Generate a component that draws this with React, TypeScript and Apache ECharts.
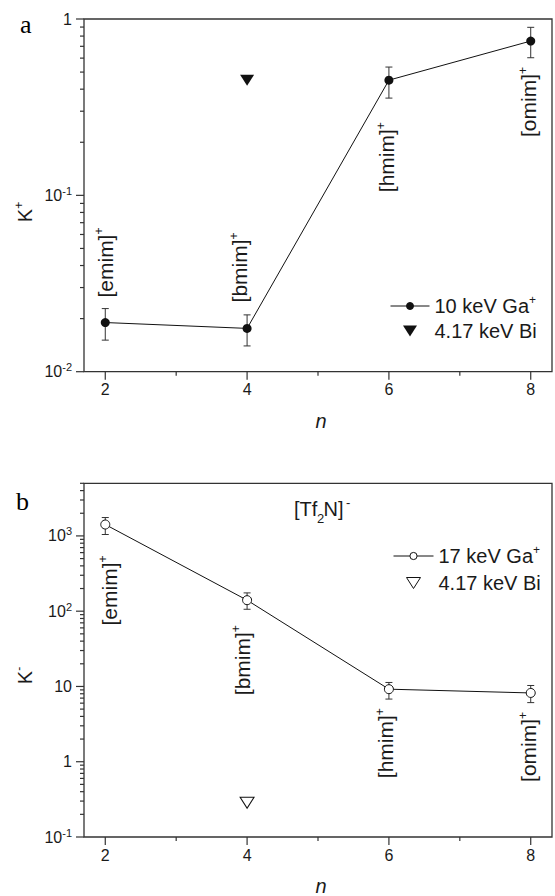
import React, { useEffect, useRef } from 'react';
import * as echarts from 'echarts';

// ---------- data ----------
const nValues = [2, 4, 6, 8];
const cationNames = ['emim', 'bmim', 'hmim', 'omim'];

// panel a : K+
const kPlusGa = [0.019, 0.0176, 0.45, 0.75];
const kPlusGaLow = [0.0151, 0.014, 0.356, 0.603];
const kPlusGaHigh = [0.0228, 0.021, 0.534, 0.897];
const kPlusBiN = [4];
const kPlusBi = [0.45];

// panel b : K-
const kMinusGa = [1417, 140, 9.2, 8.2];
const kMinusGaLow = [1044, 106, 6.8, 6.1];
const kMinusGaHigh = [1754, 175, 11.3, 10.3];
const kMinusBiN = [4];
const kMinusBi = [0.285];

// ticks
const xTickLabels = [2, 4, 6, 8];
const xMinorTicks = [3, 5, 7];
const yMajorA = [0.01, 0.1, 1];
const yMajorB = [0.1, 1, 10, 100, 1000];
const minorMultipliers = [2, 3, 4, 5, 6, 7, 8, 9];
const yMinorDecadesA = [0.01, 0.1];
const yMinorDecadesB = [0.1, 1, 10, 100, 1000];

// ---------- layout / style ----------
const FONT = '"Liberation Sans", Arial, Helvetica, sans-serif';
const SERIF = '"Liberation Serif", "Times New Roman", serif';
const AXIS_COLOR = '#333';
const TEXT_COLOR = '#1a1a1a';
const MARK_COLOR = '#111';

const X_MIN = 1.7;
const X_MAX = 8.3;
const A_Y_MIN = 0.01;
const A_Y_MAX = 1;
const B_Y_MIN = 0.1;
const B_Y_MAX = 5000;

const TRI_DOWN = 'path://M0,0L14,0L7,11Z';
const LINE_CIRCLE_ICON =
  'path://M0,5.5L16,5.5M23,5.5L39,5.5M16,5.5A3.5,3.5 0 1 0 23,5.5A3.5,3.5 0 1 0 16,5.5Z';

const labelLayoutA = [
  { side: 'above', gap: 25, dx: 0 },
  { side: 'above', gap: 26, dx: -7.5 },
  { side: 'below', gap: 42, dx: -2 },
  { side: 'below', gap: 26, dx: -2 },
];
const labelLayoutB = [
  { side: 'below', gap: 31, dx: 4 },
  { side: 'below', gap: 25, dx: -5 },
  { side: 'below', gap: 19, dx: -3 },
  { side: 'below', gap: 19, dx: -2 },
];

const supRich = (size: number) => ({
  sup: { fontSize: size, verticalAlign: 'top', lineHeight: size, fontFamily: FONT, color: TEXT_COLOR, fill: TEXT_COLOR },
});

function decadeLabel(v: number): string {
  const e = Math.round(Math.log10(v));
  if (Math.abs(Math.log10(v) - e) > 1e-6) return '';
  if (e === 0) return '1';
  if (e === 1) return '10';
  return '10{sup|' + e + '}';
}

function tickData(yMin: number, yMajor: number[], yMinorDecades: number[], yMax: number) {
  const d: number[][] = [];
  xTickLabels.forEach((v) => d.push([v, yMin, 0, 8]));
  xMinorTicks.forEach((v) => d.push([v, yMin, 0, 4]));
  yMajor.forEach((v) => d.push([X_MIN, v, 1, 8]));
  yMinorDecades.forEach((dec) =>
    minorMultipliers.forEach((m) => {
      const v = m * dec;
      if (v <= yMax * 1.0001) d.push([X_MIN, v, 1, 4]);
    })
  );
  return d;
}

function tickSeries(idx: number, data: number[][]) {
  return {
    type: 'custom',
    xAxisIndex: idx,
    yAxisIndex: idx,
    silent: true,
    clip: false,
    z: 5,
    dimensions: ['x', 'y', 'kind', 'len'],
    encode: { x: 0, y: 1, tooltip: [2, 3] },
    data,
    renderItem: (params: any, api: any) => {
      const p = api.coord([api.value(0), api.value(1)]);
      const kind = Number(api.value(2));
      const len = Number(api.value(3));
      const shape =
        kind === 0
          ? { x1: p[0], y1: p[1], x2: p[0], y2: p[1] + len }
          : { x1: p[0] - len, y1: p[1], x2: p[0], y2: p[1] };
      return { type: 'line', shape, style: { stroke: AXIS_COLOR, lineWidth: 1.2 } };
    },
  };
}

function errorSeries(idx: number, low: number[], high: number[]) {
  return {
    type: 'custom',
    xAxisIndex: idx,
    yAxisIndex: idx,
    silent: true,
    clip: false,
    z: 2,
    data: nValues.map((n, i) => [n, low[i], high[i]]),
    encode: { x: 0, y: [1, 2] },
    renderItem: (params: any, api: any) => {
      const x = api.value(0);
      const p1 = api.coord([x, api.value(1)]);
      const p2 = api.coord([x, api.value(2)]);
      const w = 3.5;
      const st = { stroke: '#333', lineWidth: 1 };
      return {
        type: 'group',
        children: [
          { type: 'line', shape: { x1: p1[0], y1: p1[1], x2: p2[0], y2: p2[1] }, style: st },
          { type: 'line', shape: { x1: p1[0] - w, y1: p1[1], x2: p1[0] + w, y2: p1[1] }, style: st },
          { type: 'line', shape: { x1: p2[0] - w, y1: p2[1], x2: p2[0] + w, y2: p2[1] }, style: st },
        ],
      };
    },
  };
}

function labelSeries(idx: number, values: number[], layout: any[]) {
  return {
    type: 'custom',
    xAxisIndex: idx,
    yAxisIndex: idx,
    silent: true,
    clip: false,
    z: 4,
    data: nValues.map((n, i) => [n, values[i]]),
    renderItem: (params: any, api: any) => {
      const i = params.dataIndex;
      const lay = layout[i];
      const p = api.coord([api.value(0), api.value(1)]);
      const above = lay.side === 'above';
      return {
        type: 'text',
        x: p[0] + lay.dx,
        y: above ? p[1] - lay.gap : p[1] + lay.gap,
        rotation: Math.PI / 2,
        style: {
          text: '[' + cationNames[i] + ']{sup|+}',
          fontSize: 21,
          fontFamily: FONT,
          fill: TEXT_COLOR,
          lineHeight: 24,
          align: above ? 'left' : 'right',
          verticalAlign: 'middle',
          rich: supRich(12),
        },
      };
    },
  };
}

const legendFormatter = (name: string) => {
  const clean = name.replace(' (b)', '');
  if (clean.endsWith('+')) return clean.slice(0, -1) + '{sup|+}';
  return clean;
};

function makeXAxis(idx: number, margin: number) {
  return {
    type: 'value',
    gridIndex: idx,
    min: X_MIN,
    max: X_MAX,
    axisLine: { show: false },
    axisTick: { show: false },
    splitLine: { show: false },
    axisLabel: {
      margin,
      fontSize: 16,
      fontFamily: FONT,
      color: TEXT_COLOR,
      formatter: (v: number) => (xTickLabels.indexOf(v) >= 0 ? String(v) : ''),
    },
  };
}

function makeYAxis(idx: number, min: number, max: number) {
  return {
    type: 'log',
    logBase: 10,
    gridIndex: idx,
    min,
    max,
    axisLine: { show: false },
    axisTick: { show: false },
    splitLine: { show: false },
    minorTick: { show: false },
    axisLabel: {
      margin: 12,
      fontSize: 16,
      fontFamily: FONT,
      color: TEXT_COLOR,
      lineHeight: 20,
      formatter: (v: number) => decadeLabel(v),
      rich: supRich(11),
    },
  };
}

function supText(x: number, y: number, main: string, sup: string, opts: any = {}) {
  return {
    type: 'text',
    x,
    y,
    rotation: opts.rotation || 0,
    style: {
      text: main + '{sup|' + sup + '}',
      fontSize: opts.fontSize || 20,
      fontFamily: FONT,
      fill: TEXT_COLOR,
      lineHeight: 24,
      align: opts.align || 'center',
      verticalAlign: 'middle',
      rich: supRich(12),
    },
  };
}

export default function App() {
  const ref = useRef<HTMLDivElement>(null);

  useEffect(() => {
    if (!ref.current) return;
    const chart = echarts.init(ref.current, null, { renderer: 'svg' });

    const legendText = { fontSize: 20, fontFamily: FONT, color: TEXT_COLOR, lineHeight: 24, rich: supRich(12) };

    const option: any = {
      animation: false,
      backgroundColor: '#fff',
      grid: [
        { left: 84, top: 19, width: 481, height: 352.7, show: true, borderColor: AXIS_COLOR, borderWidth: 1.3, backgroundColor: 'transparent' },
        { left: 84, top: 483.3, width: 481, height: 353.7, show: true, borderColor: AXIS_COLOR, borderWidth: 1.3, backgroundColor: 'transparent' },
      ],
      xAxis: [makeXAxis(0, 10), makeXAxis(1, 10)],
      yAxis: [makeYAxis(0, A_Y_MIN, A_Y_MAX), makeYAxis(1, B_Y_MIN, B_Y_MAX)],
      legend: [
        {
          data: [
            { name: '10 keV Ga+', icon: LINE_CIRCLE_ICON, itemStyle: { color: MARK_COLOR, borderColor: MARK_COLOR, borderWidth: 1 } },
            { name: '4.17 keV Bi', icon: TRI_DOWN, itemStyle: { color: MARK_COLOR, borderWidth: 0 } },
          ],
          left: 390,
          top: 294,
          orient: 'vertical',
          padding: 0,
          itemWidth: 39,
          itemHeight: 11,
          itemGap: 1,
          selectedMode: false,
          formatter: legendFormatter,
          textStyle: legendText,
        },
        {
          data: [
            { name: '17 keV Ga+', icon: LINE_CIRCLE_ICON, itemStyle: { color: '#fff', borderColor: MARK_COLOR, borderWidth: 1 } },
            { name: '4.17 keV Bi (b)', icon: TRI_DOWN, itemStyle: { color: '#fff', borderColor: MARK_COLOR, borderWidth: 1 } },
          ],
          left: 393,
          top: 544,
          orient: 'vertical',
          padding: 0,
          itemWidth: 40,
          itemHeight: 11,
          itemGap: 3,
          selectedMode: false,
          formatter: legendFormatter,
          textStyle: legendText,
        },
      ],
      graphic: [
        { type: 'text', x: 20, y: 24, style: { text: 'a', fontSize: 26, fontFamily: SERIF, fill: '#000', align: 'left', verticalAlign: 'middle' } },
        { type: 'text', x: 16, y: 501, style: { text: 'b', fontSize: 26, fontFamily: SERIF, fill: '#000', align: 'left', verticalAlign: 'middle' } },
        supText(25, 212, 'K', '+', { rotation: Math.PI / 2 }),
        supText(25, 675.5, 'K', '-', { rotation: Math.PI / 2 }),
        { type: 'text', x: 321, y: 420.5, style: { text: 'n', fontSize: 20, fontStyle: 'italic', fontFamily: FONT, fill: TEXT_COLOR, align: 'center', verticalAlign: 'middle' } },
        { type: 'text', x: 321, y: 886, style: { text: 'n', fontSize: 20, fontStyle: 'italic', fontFamily: FONT, fill: TEXT_COLOR, align: 'center', verticalAlign: 'middle' } },
        { type: 'text', x: 294, y: 509, style: { text: '[Tf', fontSize: 20, fontFamily: FONT, fill: TEXT_COLOR, align: 'left', verticalAlign: 'middle' } },
        { type: 'text', x: 317, y: 518.5, style: { text: '2', fontSize: 13, fontFamily: FONT, fill: TEXT_COLOR, align: 'left', verticalAlign: 'middle' } },
        { type: 'text', x: 323.5, y: 509, style: { text: 'N]', fontSize: 20, fontFamily: FONT, fill: TEXT_COLOR, align: 'left', verticalAlign: 'middle' } },
        { type: 'text', x: 346, y: 502, style: { text: '-', fontSize: 13, fontFamily: FONT, fill: TEXT_COLOR, align: 'left', verticalAlign: 'middle' } },
      ],
      series: [
        tickSeries(0, tickData(A_Y_MIN, yMajorA, yMinorDecadesA, A_Y_MAX)),
        tickSeries(1, tickData(B_Y_MIN, yMajorB, yMinorDecadesB, B_Y_MAX)),
        errorSeries(0, kPlusGaLow, kPlusGaHigh),
        errorSeries(1, kMinusGaLow, kMinusGaHigh),
        {
          name: '10 keV Ga+',
          type: 'line',
          xAxisIndex: 0,
          yAxisIndex: 0,
          z: 3,
          data: nValues.map((n, i) => [n, kPlusGa[i]]),
          symbol: 'circle',
          symbolSize: 9,
          itemStyle: { color: MARK_COLOR },
          lineStyle: { color: MARK_COLOR, width: 1 },
        },
        {
          name: '4.17 keV Bi',
          type: 'scatter',
          xAxisIndex: 0,
          yAxisIndex: 0,
          z: 3,
          data: kPlusBiN.map((n, i) => [n, kPlusBi[i]]),
          symbol: TRI_DOWN,
          symbolSize: [14, 11],
          itemStyle: { color: MARK_COLOR, opacity: 1 },
        },
        {
          name: '17 keV Ga+',
          type: 'line',
          xAxisIndex: 1,
          yAxisIndex: 1,
          z: 3,
          data: nValues.map((n, i) => [n, kMinusGa[i]]),
          symbol: 'circle',
          symbolSize: 9,
          itemStyle: { color: '#fff', borderColor: MARK_COLOR, borderWidth: 1 },
          lineStyle: { color: MARK_COLOR, width: 1 },
        },
        {
          name: '4.17 keV Bi (b)',
          type: 'scatter',
          xAxisIndex: 1,
          yAxisIndex: 1,
          z: 3,
          data: kMinusBiN.map((n, i) => [n, kMinusBi[i]]),
          symbol: TRI_DOWN,
          symbolSize: [14, 11],
          itemStyle: { color: '#fff', borderColor: MARK_COLOR, borderWidth: 1, opacity: 1 },
        },
        labelSeries(0, kPlusGa, labelLayoutA),
        labelSeries(1, kMinusGa, labelLayoutB),
      ],
    };

    chart.setOption(option);
    return () => chart.dispose();
  }, []);

  return <div ref={ref} style={{ position: 'absolute', left: 0, top: 0, width: 555, height: 896 }} />;
}
